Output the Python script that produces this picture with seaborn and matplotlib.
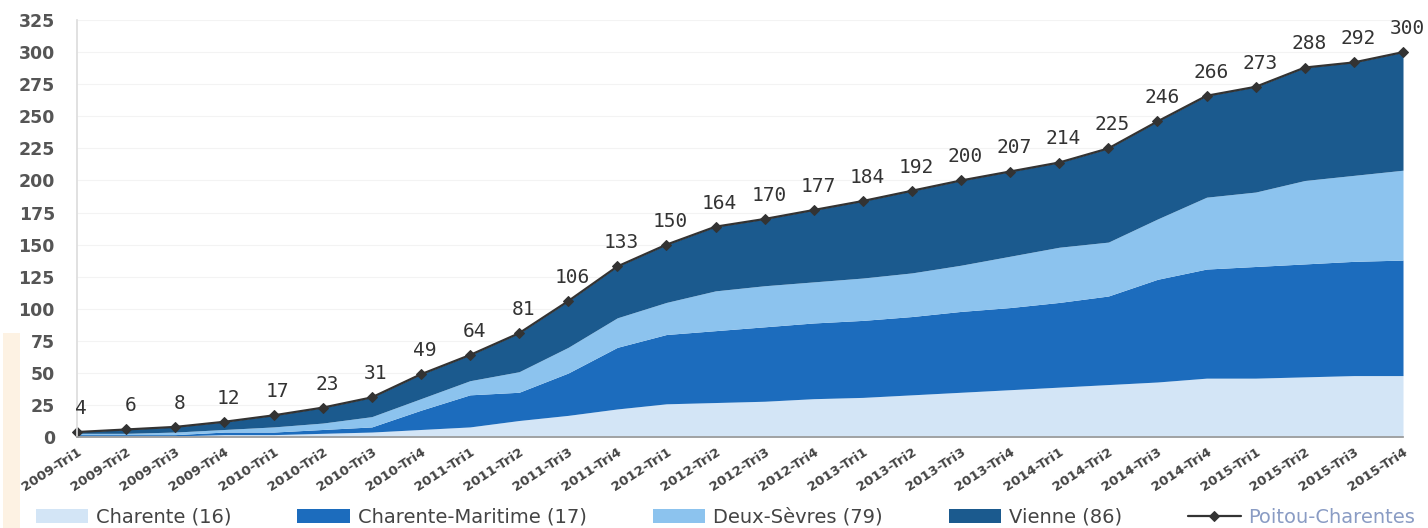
import pandas as pd
import matplotlib.pyplot as plt
from matplotlib.patches import Rectangle
import seaborn as sns

quarters = ["2009-Tri1", "2009-Tri2", "2009-Tri3", "2009-Tri4",
            "2010-Tri1", "2010-Tri2", "2010-Tri3", "2010-Tri4",
            "2011-Tri1", "2011-Tri2", "2011-Tri3", "2011-Tri4",
            "2012-Tri1", "2012-Tri2", "2012-Tri3", "2012-Tri4",
            "2013-Tri1", "2013-Tri2", "2013-Tri3", "2013-Tri4",
            "2014-Tri1", "2014-Tri2", "2014-Tri3", "2014-Tri4",
            "2015-Tri1", "2015-Tri2", "2015-Tri3", "2015-Tri4"]

charente = [1, 1, 1, 2, 2, 3, 4, 6, 8, 13, 17, 22, 26, 27, 28, 30,
            31, 33, 35, 37, 39, 41, 43, 46, 46, 47, 48, 48]
charente_maritime = [1, 1, 1, 2, 2, 3, 4, 15, 25, 22, 33, 48, 54, 56, 58, 59,
                     60, 61, 63, 64, 66, 69, 80, 85, 87, 88, 89, 90]
deux_sevres = [1, 1, 2, 2, 4, 5, 8, 9, 11, 16, 20, 23, 25, 31, 32, 32,
               33, 34, 36, 40, 43, 42, 47, 56, 58, 65, 67, 70]
vienne = [1, 3, 4, 6, 9, 12, 15, 19, 20, 30, 36, 40, 45, 50, 52, 56,
          60, 64, 66, 66, 66, 73, 76, 79, 82, 88, 88, 92]
poitou_charentes = [4, 6, 8, 12, 17, 23, 31, 49, 64, 81, 106, 133, 150, 164, 170, 177,
                    184, 192, 200, 207, 214, 225, 246, 266, 273, 288, 292, 300]

series_names = ["Charente (16)", "Charente-Maritime (17)", "Deux-Sèvres (79)", "Vienne (86)"]
colors = ["#d3e5f6", "#1c6cbd", "#8cc3ee", "#1b5a8e"]

df = pd.DataFrame({"quarter": quarters, "pos": range(len(quarters)),
                   "total": poitou_charentes})

sns.set_theme(style="white")
plt.rcParams['font.family'] = ['DejaVu Sans']

fig = plt.figure(figsize=(14.28, 5.28), dpi=100)
ax = fig.add_axes([0.054, 0.172, 0.9285, 0.79])

# faint scan tint on the left edge
fig.patches.append(Rectangle((0.002, 0.0), 0.012, 0.37, transform=fig.transFigure,
                             facecolor="#fdf2e3", edgecolor="none", zorder=0))

ax.stackplot(df["pos"], charente, charente_maritime, deux_sevres, vienne,
             colors=colors, labels=series_names, linewidth=0)

sns.lineplot(data=df, x="pos", y="total", ax=ax, color="#333333", linewidth=1.6,
             marker="D", markersize=5.5, markeredgecolor="#333333",
             label="Poitou-Charentes", clip_on=False)

for x, v in zip(df["pos"], df["total"]):
    ax.annotate(str(v), (x, v), xytext=(3, 17), textcoords="offset points",
                ha="center", va="center", fontsize=14, color="#333333",
                family="DejaVu Sans Mono")

ax.set_xlim(0, len(quarters) - 1)
ax.set_ylim(0, 325)
ax.set_yticks(range(0, 326, 25))
ax.set_yticklabels([str(t) for t in range(0, 326, 25)], fontsize=12.5,
                   fontweight="bold", color="#555555")
ax.set_xticks(df["pos"])
ax.set_xticklabels(quarters, rotation=33, ha="right", rotation_mode="anchor",
                   fontsize=9.5, fontweight="bold", color="#444444")
ax.tick_params(axis="y", length=0, pad=16)
ax.tick_params(axis="x", length=0, pad=6)
ax.set_xlabel("")
ax.set_ylabel("")
ax.yaxis.grid(True, color="#f3f3f3", linewidth=0.8)
ax.set_axisbelow(True)
for side in ["top", "right"]:
    ax.spines[side].set_visible(False)
ax.spines["left"].set_color("#dddddd")
ax.spines["bottom"].set_color("#999999")

handles, labels = ax.get_legend_handles_labels()
ax.get_legend().remove()
leg = fig.legend(handles, labels, loc="center", bbox_to_anchor=(0.508, 0.02),
                 ncol=5, frameon=False, fontsize=14, handlelength=2.7,
                 handletextpad=0.4, columnspacing=3.4, labelcolor="#444444")
leg.get_texts()[-1].set_color("#8a9cc4")

fig.savefig("out.png", dpi=100)
